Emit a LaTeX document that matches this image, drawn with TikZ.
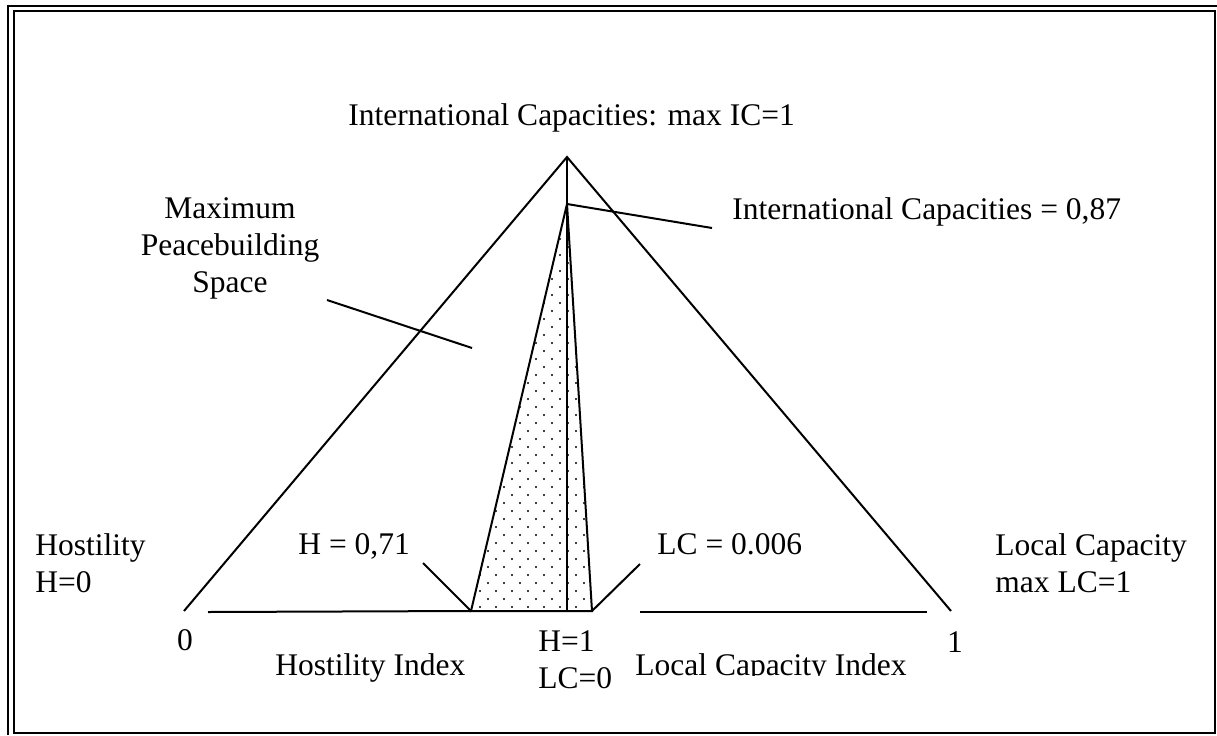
\documentclass[tikz,border=0pt]{standalone}
\usepackage{fontspec}
\setmainfont{Liberation Serif}
\usepackage{tikz}
\usetikzlibrary{patterns, positioning}

% staggered dot fill for the inner triangle
\pgfdeclarepatternformonly{pbdots}{\pgfqpoint{-1pt}{-1pt}}{\pgfqpoint{9pt}{9pt}}{\pgfqpoint{8pt}{8pt}}{%
  \pgfpathcircle{\pgfqpoint{0pt}{0pt}}{0.6pt}
  \pgfpathcircle{\pgfqpoint{4pt}{4pt}}{0.6pt}
  \pgfusepath{fill}}

\begin{document}
\begin{tikzpicture}[x=0.5pt, y=-0.5pt,
  lbl/.style={inner sep=0pt, font=\fontsize{15.75}{18.5}\selectfont, anchor=base west},
  edge/.style={line width=1pt, line join=miter},
  leader/.style={line width=1pt},
  frame/.style={line width=1.1pt}]
  \useasboundingbox (0,0) rectangle (1217,735);
  % double frame
  \draw[frame] (8,735) -- (8,6) -- (1217,6);
  \draw[frame] (14,11) rectangle (1215,733);

  % corner points
  \coordinate (apex) at (567,157);
  \coordinate (lft) at (184,611);
  \coordinate (rgt) at (951,611);
  \coordinate (foot) at (567,611);
  \coordinate (ipk) at (567,204);
  \coordinate (ilft) at (471,611);
  \coordinate (irgt) at (592,611);

  % peacebuilding space
  \draw[edge] (lft) -- (apex) -- (rgt);
  \draw[edge, pattern=pbdots] (ilft) -- (ipk) -- (irgt) -- cycle;
  \draw[edge] (apex) -- (foot);
  \draw[edge] (208,612) -- (ilft);
  \draw[edge] (640,612) -- (927,612);

  % labels (multi-line ones sit on their last line)
  \node[lbl] (top) at (348,125) {International Capacities: max IC=1};
  \node[lbl] (icap) at (732,219) {International Capacities = 0,87};
  \node[lbl, anchor=base, align=center] (mps) at (230,292) {Maximum\\Peacebuilding\\Space};
  \node[lbl, align=left] (host) at (35,592) {Hostility\\H=0};
  \node[lbl, align=left] (lcap) at (995,592) {Local Capacity\\max LC=1};
  \node[lbl] (hval) at (298,554) {H = 0,71};
  \node[lbl] (lcval) at (657,554) {LC = 0.006};
  \node[lbl, anchor=base] (zero) at (185,650) {0};
  \node[lbl, anchor=base] (one) at (955,652) {1};
  \node[lbl] (hidx) at (275,675) {Hostility Index};
  \node[lbl, align=left] (mid) at (538,688) {H=1\\LC=0};
  \begin{scope}
    \clip (600,630) rectangle (940,675);
    \node[lbl] (lcidx) at (635,675) {Local Capacity Index};
  \end{scope}

  % leader lines
  \coordinate (mpsend) at (327,300);
  \coordinate (mpspt) at (472,348);
  \coordinate (icend) at (712,228);
  \coordinate (hend) at (423,563);
  \coordinate (lcend) at (640,564);
  \draw[leader] (mpsend) -- (mpspt);
  \draw[leader] (ipk) -- (icend);
  \draw[leader] (hend) -- (ilft);
  \draw[leader] (lcend) -- (irgt);
\end{tikzpicture}
\end{document}
